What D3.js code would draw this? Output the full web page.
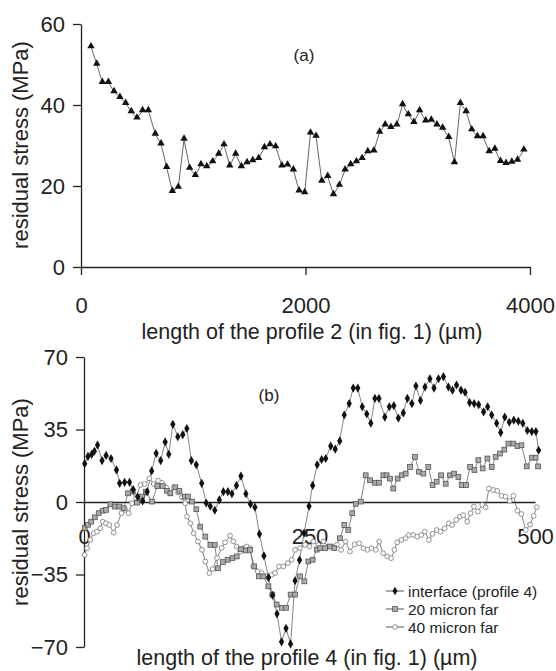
<!DOCTYPE html>
<html>
<head>
<meta charset="utf-8">
<script src="https://cdn.jsdelivr.net/npm/d3@7"></script>
<style>
  body { margin: 0; background: #fff; }
  text { font-family: "Liberation Sans", Arial, sans-serif; fill: #222; }
</style>
</head>
<body>
<svg id="chart" width="556" height="671"></svg>
<script>
// ---- panel (a): profile 2 ----
const profile2X = [89,140,190,244,294,347,398,448,499,549,600,662,713,763,814,867,918,968,1019,1069,
  1120,1173,1227,1274,1325,1378,1429,1479,1530,1583,1634,1684,1734,1790,1840,1892,1943,1993,2044,2094,
  2145,2198,2249,2302,2353,2403,2454,2504,2555,2609,2660,2710,2761,2814,2865,2916,2966,3017,3071,3121,
  3171,3222,3276,3327,3380,3431,3481,3532,3582,3636,3687,3737,3787,3838,3889,3945];
const profile2Y = [54.4,50.1,45.6,45.6,43.3,41.9,40.4,38.4,36.8,38.6,38.6,32.8,30.4,24.6,18.7,19.7,31.6,24.4,22.6,25.3,
  24.8,26.0,27.9,30.2,25.0,27.9,24.8,25.8,26.3,26.8,29.5,30.2,29.7,25.0,25.2,24.0,18.8,18.4,33.1,32.3,
  21.2,22.4,17.9,20.2,24.0,25.3,26.0,26.8,28.5,28.7,33.3,35.1,34.5,35.1,40.1,37.6,35.7,38.6,36.1,36.3,
  35.1,34.3,32.0,25.8,40.4,38.4,33.9,32.2,32.2,28.5,29.1,26.1,25.6,25.9,26.4,28.9];
const ticksAX = [0, 2000, 4000];
const ticksAY = [0, 20, 40, 60];

// ---- panel (b): profile 4 ----
const interfaceX = [0.8,4.4,8.5,11.5,15,20,24.5,30,36,39.5,45,50.5,54.5,59.5,65,70,75,80,85,90,94,98.5,104,109.5,114,
  119,124.5,130.5,135.5,140,145,150,154.5,159.5,164,169,174,179.5,184.5,189.5,194.5,199.5,204.5,209,214,219,224,229,
  234,239,244,249.5,253.5,258.5,263.5,268,273.5,278.5,283.5,288.5,294,298.5,303.5,308.5,313.5,318,322.5,327,333.5,
  338.5,343.5,348.5,354,358.5,363.5,368,373,378,383.5,388,393,398.5,404,408.5,413,418,422.5,427.5,432.5,437.5,443,
  447.5,452,457.5,462,466.5,471.5,476.5,481.5,486.5,491.5,496.5,501,504];
const interfaceY = [18.5,22,23,24.5,27.5,20,22.5,21,15.5,9,9.5,9.5,6,2.5,0.5,5,15,23.5,20,29,23,37.5,31.5,32.5,35.5,
  20,18,9,-0.5,-2,-4,1,5,5,4,8,12.5,4,-1,-2.5,-15.5,-26,-36.5,-45,-54,-67.5,-61,-68.5,
  -38,-28,-15,-2,8,18,20.5,21,27,25.5,29.5,42,47.5,55,55,46,42.5,38,50,50,41,
  46,46.5,40.5,43,50,47.5,56,49,55.5,59.5,55,59.5,60.5,55.5,54,56.5,54,53,48,47.5,47,43.5,
  46,42,38,33.5,41,38.5,39.5,39,38,34.5,34,34,25];

const micron20X = [0.8,4.4,8,12,16.3,20.7,24.4,29.2,34,39.2,44,48.8,54,58.7,64.3,68.7,75.4,81.3,87.2,92,95.7,101.3,
  105.7,111.6,115.3,119.7,124.5,128.9,134.5,140.1,144.9,148.5,154,159.3,164.5,169.3,174.1,179.3,184,188.8,194,198.8,
  204.4,208.8,213.6,219.2,224,229.1,233.9,239.5,244.3,248.7,253.5,258,261.7,267.2,272.7,277.5,283.8,288.6,293,297.4,
  301.3,306.8,312.3,317.1,322.6,327,331.8,335.5,339.2,342.9,347.7,352.2,356.6,361.4,367,371.4,376.2,381.7,386.5,391,
  395.8,401,405.8,410.2,415,418.7,423.5,428,432.8,437.2,442,447.2,452,456.4,461.2,466,470.5,476,480.5,485,490.8,
  496.7,500.6,503.4];
const micron20Y = [-12.5,-11,-9.5,-7.4,-5.4,-4.2,-3.8,-1.1,-2.2,-2.2,-3,4.2,5,-0.3,2.6,5,0.2,7.7,7.7,5.4,4.2,7.1,
  5.4,2.6,2.6,0.2,-3.5,-11.9,-16.7,-20.7,-20.7,-32,-29,-27.9,-27.1,-26.3,-22.8,-23.4,-23.1,-31.1,-35.9,-35.9,
  -40.7,-44.7,-49.5,-51.1,-51.1,-44.7,-44.7,-35.9,-38.3,-28.7,-27.9,-23,-22.3,-22.3,-21.5,-22.3,-17.5,-11.1,-13.5,-5.4,
  -0.9,0.2,12.9,10.5,9.3,9.3,12.9,12.9,11.3,6.5,11.3,12.9,13.7,16.9,21.8,14.6,13.7,16.9,8.2,9.8,
  12.9,8.8,12.9,13.7,12.1,8.2,8.2,16.9,15.4,20.2,16.2,21,16.9,21.8,23.4,25.3,28.2,28.2,27,27.4,17.2,
  21.4,21.4,17.2];

const micron40X = [0.8,3.3,7,10.7,14.4,18.1,20.7,24.4,28.1,32.9,36.6,41.4,45.9,49.5,53.2,57.7,62.5,67.3,72.5,77.3,
  82.1,86.5,90.9,95.7,99.4,104.2,108.7,112.3,114.2,117.9,121.6,126.4,130.8,134.5,138.9,142.6,147.5,152.6,156.3,161.9,
  165.6,169.3,173,176.7,180.4,184,187.7,192.5,197,202.5,208.1,211.8,216.2,221,225.9,230.3,234,239.5,245.1,249.9,
  254.3,259.8,265.4,270.9,274.6,280.2,285,290.1,294.9,300,305,309.8,314.2,318.7,323.5,327.2,331.6,336.1,340.5,344.2,
  347.2,352,356.5,360.2,365,369.5,373.9,377.9,382.4,386.4,390.9,395.3,399.8,404.5,408.2,412.7,416.8,420.4,424.9,428.6,
  432.3,436.7,441.5,445.2,448.9,453.7,458.1,462.9,467.3,472,476,480.5,484.9,489.8,494.5,498.5,502];
const micron40Y = [-25.5,-22.3,-18.3,-15.1,-14.3,-12.7,-9.5,-10.3,-11.1,-14.8,-11.1,-5.4,-3.8,-5.4,-0.6,1.8,8.2,8.7,11.4,8.7,
  10.3,9.3,7.1,4.2,7.1,4.6,2.3,-0.6,-7,-10.3,-15.1,-19.1,-23.1,-28.7,-34.3,-32.4,-27,-22.2,-19.5,-16.3,
  -19,-21.5,-23.9,-22.3,-21.5,-22.3,-31.1,-33.5,-34.3,-35.9,-35.1,-34.3,-31.1,-31.1,-29.5,-27.9,-23.1,-22.3,-20.7,-21.5,
  -19.1,-20.7,-19.1,-21.5,-21.5,-20.7,-23.1,-19.1,-23.9,-20.5,-19.9,-22.3,-23.1,-22.3,-23.1,-19.1,-24.7,-26.3,-27.1,-23.1,
  -19.5,-18.3,-17.5,-15.9,-15.9,-16.7,-15.9,-14.3,-18.3,-15.4,-13.5,-14.3,-12.7,-10.3,-11.1,-8.7,-7.1,-6.3,-9.5,-5.4,
  -2.2,-4.6,-1.4,-2.6,6.5,5.8,5.4,2.9,2.6,0.5,3,-4.2,-5.8,-13.5,-10.9,-6.7,-2.5];

const ticksBX = [0, 250, 500];
const ticksBY = [-70, -35, 0, 35, 70];
const seriesNames = ["interface (profile 4)", "20 micron far", "40 micron far"];

const svg = d3.select("#chart");
svg.append("rect").attr("width", 556).attr("height", 671).attr("fill", "#fff");

function styleAxis(g) {
  g.selectAll("path, line").attr("stroke", "#222").attr("stroke-width", 1.3);
  g.selectAll("text").style("font-size", "22px").attr("fill", "#222");
}

function zip(xs, ys) {
  return xs.map((x, i) => ({ x: x, y: ys[i] }));
}

// ===== panel (a) =====
const xA = d3.scaleLinear().domain([0, 4000]).range([81, 530]);
const yA = d3.scaleLinear().domain([0, 60]).range([267, 24]);

svg.append("g")
  .attr("transform", "translate(0," + yA(0) + ")")
  .call(d3.axisBottom(xA).tickValues(ticksAX).tickFormat(d3.format("d")).tickSize(8).tickSizeOuter(0).tickPadding(22))
  .call(styleAxis);

svg.append("g")
  .attr("transform", "translate(" + xA(0) + ",0)")
  .call(d3.axisLeft(yA).tickValues(ticksAY).tickSize(8).tickSizeOuter(0).tickPadding(8))
  .call(styleAxis);

const dataA = zip(profile2X, profile2Y);
svg.append("path").datum(dataA)
  .attr("fill", "none").attr("stroke", "#555").attr("stroke-width", 0.9)
  .attr("d", d3.line().x(d => xA(d.x)).y(d => yA(d.y)));

svg.append("g").selectAll("path").data(dataA).enter().append("path")
  .attr("transform", d => "translate(" + xA(d.x) + "," + (yA(d.y) - 0.5) + ")")
  .attr("d", d3.symbol().type(d3.symbolTriangle).size(24))
  .attr("fill", "#111");

svg.append("text").attr("x", 304).attr("y", 61).attr("text-anchor", "middle")
  .style("font-size", "17px").text("(a)");
svg.append("text").attr("x", 312).attr("y", 339).attr("text-anchor", "middle")
  .style("font-size", "21.5px").text("length of the profile 2 (in fig. 1) (\u00b5m)");
svg.append("text").attr("transform", "translate(28,145) rotate(-90)").attr("text-anchor", "middle")
  .style("font-size", "22px").text("residual stress (MPa)");

// ===== panel (b) =====
const xB = d3.scaleLinear().domain([0, 500]).range([84, 535]);
const yB = d3.scaleLinear().domain([-70, 70]).range([647, 357]);

svg.append("g")
  .attr("transform", "translate(0," + yB(0) + ")")
  .call(d3.axisBottom(xB).tickValues(ticksBX).tickSize(0).tickSizeOuter(0).tickPadding(26))
  .call(styleAxis);

svg.append("g")
  .attr("transform", "translate(" + xB(0) + ",0)")
  .call(d3.axisLeft(yB).tickValues(ticksBY).tickSize(8).tickSizeOuter(0).tickPadding(8))
  .call(styleAxis);

const lineB = d3.line().x(d => xB(d.x)).y(d => yB(d.y));
const dataInterface = zip(interfaceX, interfaceY);
const data20 = zip(micron20X, micron20Y);
const data40 = zip(micron40X, micron40Y);

[data40, data20, dataInterface].forEach(ds => {
  svg.append("path").datum(ds)
    .attr("fill", "none").attr("stroke", "#666").attr("stroke-width", 0.8)
    .attr("d", lineB);
});

svg.append("g").selectAll("circle").data(data40).enter().append("circle")
  .attr("cx", d => xB(d.x)).attr("cy", d => yB(d.y)).attr("r", 2.4)
  .attr("fill", "#fff").attr("stroke", "#777").attr("stroke-width", 0.8);

svg.append("g").selectAll("rect").data(data20).enter().append("rect")
  .attr("x", d => xB(d.x) - 2.4).attr("y", d => yB(d.y) - 2.4)
  .attr("width", 4.8).attr("height", 4.8)
  .attr("fill", "#aaa").attr("stroke", "#555").attr("stroke-width", 0.8);

svg.append("g").selectAll("path").data(dataInterface).enter().append("path")
  .attr("transform", d => "translate(" + xB(d.x) + "," + yB(d.y) + ")")
  .attr("d", d3.symbol().type(d3.symbolDiamond).size(24))
  .attr("fill", "#111");

svg.append("text").attr("x", 269).attr("y", 401).attr("text-anchor", "middle")
  .style("font-size", "17px").text("(b)");
svg.append("text").attr("x", 307).attr("y", 665).attr("text-anchor", "middle")
  .style("font-size", "21.5px").text("length of the profile 4 (in fig. 1) (\u00b5m)");
svg.append("text").attr("transform", "translate(28,502) rotate(-90)").attr("text-anchor", "middle")
  .style("font-size", "22px").text("residual stress (MPa)");

// legend
const legend = svg.append("g").attr("transform", "translate(386,591)");
seriesNames.forEach((name, i) => {
  const row = legend.append("g").attr("transform", "translate(0," + (i * 18) + ")");
  row.append("line").attr("x1", 0).attr("x2", 18).attr("stroke", "#555").attr("stroke-width", 1);
  if (i === 0) {
    row.append("path").attr("transform", "translate(9,0)")
      .attr("d", d3.symbol().type(d3.symbolDiamond).size(22)).attr("fill", "#111");
  } else if (i === 1) {
    row.append("rect").attr("x", 6.6).attr("y", -2.4).attr("width", 4.8).attr("height", 4.8)
      .attr("fill", "#aaa").attr("stroke", "#555").attr("stroke-width", 0.8);
  } else {
    row.append("circle").attr("cx", 9).attr("cy", 0).attr("r", 2.4)
      .attr("fill", "#fff").attr("stroke", "#777").attr("stroke-width", 0.8);
  }
  row.append("text").attr("x", 22).attr("y", 5.5).style("font-size", "15.5px").text(name);
});
</script>
</body>
</html>
